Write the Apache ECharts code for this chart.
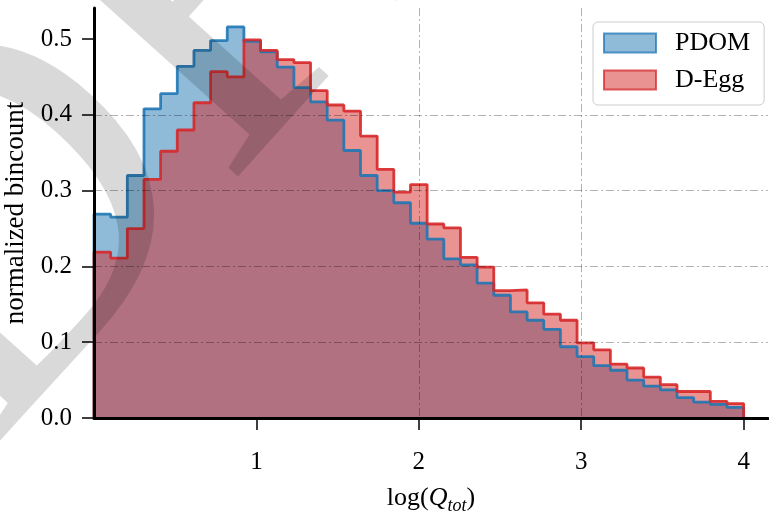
<!DOCTYPE html>
<html>
<head>
<meta charset="utf-8">
<script src="https://cdn.jsdelivr.net/npm/echarts@6/dist/echarts.min.js"></script>
<style>
  html, body { margin: 0; padding: 0; background: #fff; }
  #chart { width: 769px; height: 514px; }
</style>
</head>
<body>
<div id="chart"></div>
<script>
// histogram binning: 39 equal bins between 0 and 4
const binMin = 0;
const binMax = 4;
const nBins = 39;

// normalized bin counts
const pdomCounts = [
  0.269, 0.265, 0.320, 0.408, 0.428, 0.464, 0.485, 0.498, 0.516, 0.497,
  0.483, 0.463, 0.436, 0.417, 0.393, 0.353, 0.320, 0.300, 0.284, 0.257,
  0.236, 0.210, 0.202, 0.178, 0.162, 0.140, 0.129, 0.117, 0.094, 0.081,
  0.069, 0.063, 0.050, 0.042, 0.037, 0.027, 0.021, 0.018, 0.014
];
const deggCounts = [
  0.219, 0.211, 0.250, 0.315, 0.352, 0.380, 0.416, 0.457, 0.450, 0.499,
  0.485, 0.473, 0.469, 0.432, 0.413, 0.405, 0.372, 0.328, 0.298, 0.308,
  0.256, 0.251, 0.212, 0.199, 0.168, 0.169, 0.152, 0.137, 0.129, 0.099,
  0.090, 0.071, 0.066, 0.054, 0.044, 0.035, 0.035, 0.022, 0.019
];

const xTicks = [1, 2, 3, 4];
const yTicks = [0, 0.1, 0.2, 0.3, 0.4, 0.5];

const font = "Liberation Serif";
const blue = "#1f77b4";
const red = "#d62728";

const binEdges = [];
for (let i = 0; i <= nBins; i++) binEdges.push(binMin + (binMax - binMin) * i / nBins);

// outline of a stepfilled histogram (value held until next edge)
function stepPoints(counts) {
  const pts = [[binEdges[0], 0]];
  counts.forEach((c, i) => pts.push([binEdges[i], c]));
  pts.push([binEdges[nBins], counts[nBins - 1]]);
  pts.push([binEdges[nBins], 0]);
  return pts;
}

function fillSeries(name, counts, color) {
  return {
    name: name,
    type: "line",
    step: "end",
    data: stepPoints(counts),
    symbol: "none",
    silent: true,
    lineStyle: { width: 0, opacity: 0 },
    areaStyle: { color: color, opacity: 0.5 },
    emphasis: { disabled: true },
    z: 2
  };
}

function edgeSeries(name, counts, color) {
  return {
    name: name,
    type: "line",
    step: "end",
    data: stepPoints(counts),
    symbol: "none",
    silent: true,
    lineStyle: { color: color, width: 2.8, opacity: 0.9 },
    emphasis: { disabled: true },
    z: 3
  };
}

const chart = echarts.init(document.getElementById("chart"));

const gridLine = {
  show: true,
  showMinLine: false,
  showMaxLine: false,
  lineStyle: { color: "rgba(0,0,0,0.3)", width: 1, type: [8, 3, 2, 3] }
};

chart.setOption({
  animation: false,
  backgroundColor: "#fff",
  grid: { left: 94, right: 1, top: 8, bottom: 96, outerBoundsMode: "none", containLabel: false },
  legend: {
    orient: "vertical",
    left: 593,
    top: 22,
    padding: [8, 14, 12, 10],
    itemWidth: 52,
    itemHeight: 19,
    itemGap: 11,
    backgroundColor: "rgba(255,255,255,0.9)",
    borderColor: "#cccccc",
    borderWidth: 1,
    borderRadius: 5,
    z: 20,
    selectedMode: false,
    textStyle: { fontFamily: font, fontSize: 26, color: "#000", padding: [0, 0, 0, 14] },
    data: [
      { name: "PDOM", icon: "rect", itemStyle: { color: "rgba(31,119,180,0.5)", borderColor: "rgba(31,119,180,0.75)", borderWidth: 2 } },
      { name: "D-Egg", icon: "rect", itemStyle: { color: "rgba(214,39,40,0.5)", borderColor: "rgba(214,39,40,0.75)", borderWidth: 2 } }
    ]
  },
  xAxis: {
    type: "value",
    min: 0,
    max: 4.15,
    interval: 1,
    z: 10,
    axisLine: { show: true, lineStyle: { color: "#000", width: 3 } },
    axisTick: { show: true, length: 12, customValues: xTicks, lineStyle: { color: "#000", width: 1.5 } },
    axisLabel: { customValues: xTicks, fontFamily: font, fontSize: 25, color: "#000", margin: 32 },
    splitLine: gridLine,
    name: "{n|log(}{i|Q}{s|tot}{n|)}",
    nameLocation: "middle",
    nameGap: 63,
    nameTextStyle: {
      fontFamily: font,
      fontSize: 25,
      color: "#000",
      rich: {
        n: { fontFamily: font, fontSize: 26, color: "#000", lineHeight: 34 },
        i: { fontFamily: font, fontSize: 26, fontStyle: "italic", color: "#000", lineHeight: 34 },
        s: { fontFamily: font, fontSize: 18, fontStyle: "italic", color: "#000", lineHeight: 34, verticalAlign: "bottom" }
      }
    }
  },
  yAxis: {
    type: "value",
    min: 0,
    max: 0.541,
    interval: 0.1,
    z: 10,
    axisLine: { show: true, lineStyle: { color: "#000", width: 3 } },
    axisTick: { show: true, length: 12, customValues: yTicks, lineStyle: { color: "#000", width: 1.5 } },
    axisLabel: {
      customValues: yTicks,
      formatter: v => v.toFixed(1),
      fontFamily: font,
      fontSize: 25,
      color: "#000",
      margin: 22
    },
    splitLine: gridLine,
    name: "normalized bincount",
    nameLocation: "middle",
    nameGap: 62,
    nameTextStyle: { fontFamily: font, fontSize: 27, color: "#000" }
  },
  graphic: [
    {
      type: "text",
      x: -113,
      y: 370,
      rotation: 48 * Math.PI / 180,
      silent: true,
      z: 15,
      style: {
        text: "DRAFT",
        font: '500px "Liberation Serif"',
        verticalAlign: "middle",
        align: "left",
        fill: "rgba(0,0,0,0.15)"
      }
    }
  ],
  series: [
    fillSeries("PDOM", pdomCounts, blue),
    fillSeries("D-Egg", deggCounts, red),
    edgeSeries("PDOM", pdomCounts, blue),
    edgeSeries("D-Egg", deggCounts, red)
  ]
});
</script>
</body>
</html>
